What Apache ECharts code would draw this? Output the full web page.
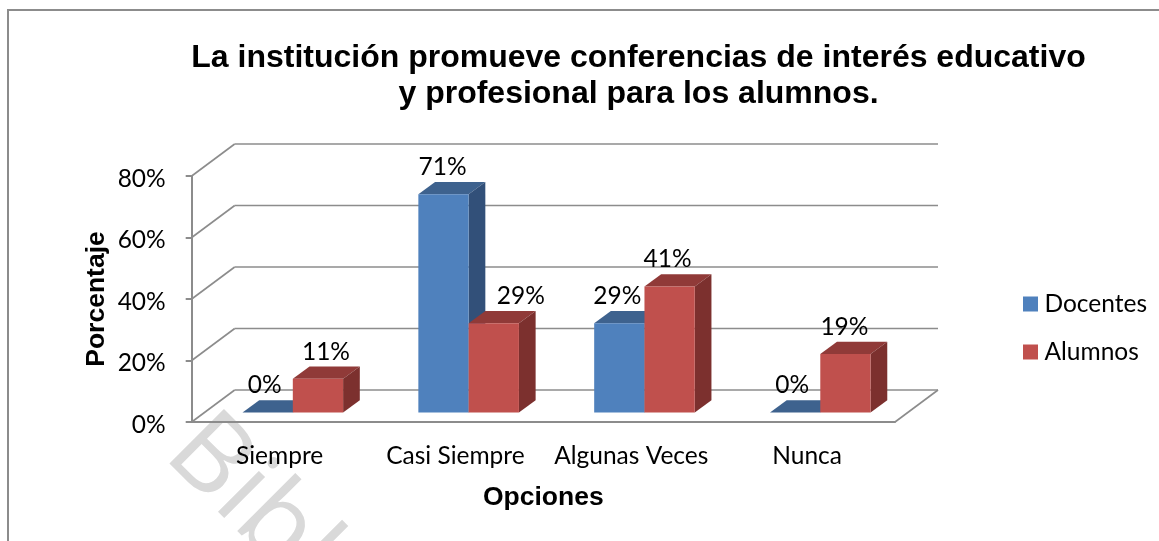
<!DOCTYPE html>
<html>
<head>
<meta charset="utf-8">
<style>
html, body { margin: 0; padding: 0; background: #fff; }
#chart { width: 1159px; height: 541px; }
</style>
<script src="https://cdn.jsdelivr.net/npm/echarts@6/dist/echarts.min.js"></script>
</head>
<body>
<div id="chart"></div>
<script>
const categories = ['Siempre', 'Casi Siempre', 'Algunas Veces', 'Nunca'];
const docentes = [0, 71, 29, 0];
const alumnos = [11, 29, 41, 19];
const gridTicks = [0, 20, 40, 60, 80];

// depth of the fake 3d box and of the bars, px
const wallDx = 43, wallDy = 32;
const barDx = 16.7, barDy = 12.3;
const baseDx = 13.2, baseDy = 9.5;
const barShare = 0.286;

const blue = { front: '#4f81bd', top: '#3e628e', side: '#325079' };
const red = { front: '#c0504d', top: '#903a38', side: '#7c302e' };

// Excel had some labels dragged by hand: [dx, dy] from the default spot
const docentesNudge = [[-3, 0], [-1, 0], [-2, 0], [-3, 0]];
const alumnosNudge = [[8, 0], [27, 0], [-2, 0], [-1, 0]];

function barRenderer(colors, side, nudge) {
    return function (params, api) {
        const i = api.value(0);
        const val = api.value(1);
        const top = api.coord([i, val]);
        const bottom = api.coord([i, 0]);
        const w = api.size([1, 0])[0] * barShare;
        const x0 = top[0] + baseDx + (side < 0 ? -w : 0);
        const x1 = x0 + w;
        const y0 = top[1] - baseDy;
        const y1 = bottom[1] - baseDy;
        const poly = (points, fill) => ({ type: 'polygon', shape: { points }, style: { fill } });
        const children = [
            poly([[x0, y0], [x0 + barDx, y0 - barDy], [x1 + barDx, y0 - barDy], [x1, y0]], colors.top),
            poly([[x1, y0], [x1 + barDx, y0 - barDy], [x1 + barDx, y1 - barDy], [x1, y1]], colors.side)
        ];
        if (val > 0) {
            children.push(poly([[x0, y0], [x1, y0], [x1, y1], [x0, y1]], colors.front));
        }
        children.push({
            type: 'text',
            z2: 10,
            style: {
                x: (x0 + x1) / 2 + nudge[i][0],
                y: y0 - 27 + nudge[i][1],
                text: val + '%',
                font: '24.5px Lato',
                fill: '#000',
                align: 'center',
                verticalAlign: 'middle'
            }
        });
        return { type: 'group', children };
    };
}

function wallRenderer(params, api) {
    const p = api.coord([0, api.value(1)]);
    const box = params.coordSys;
    const y = p[1];
    const lineStyle = { stroke: '#8c8c8c', lineWidth: 1.6 };
    const line = (x1, y1, x2, y2) => ({ type: 'line', shape: { x1, y1, x2, y2 }, style: lineStyle });
    const children = [
        line(box.x, y, box.x + wallDx, y - wallDy),
        line(box.x + wallDx, y - wallDy, box.x + box.width + wallDx, y - wallDy)
    ];
    if (api.value(1) === 0) {
        children.push(line(box.x + box.width, y, box.x + box.width + wallDx, y - wallDy));
    }
    return { type: 'group', children };
}

const chart = echarts.init(document.getElementById('chart'));
chart.setOption({
    animation: false,
    backgroundColor: '#fff',
    title: {
        text: 'La institución promueve conferencias de interés educativo\ny profesional para los alumnos.',
        left: 633.5,
        top: 35,
        textAlign: 'center',
        textStyle: { fontFamily: 'Liberation Sans', fontWeight: 'bold', fontSize: 32, lineHeight: 36, color: '#000' }
    },
    legend: {
        orient: 'vertical',
        left: 1018,
        top: 286.5,
        itemWidth: 15,
        itemHeight: 15,
        itemGap: 23,
        icon: 'rect',
        data: ['Docentes', 'Alumnos'],
        textStyle: { fontFamily: 'Lato', fontSize: 24.5, color: '#000', padding: [0, 0, 0, 1.5] }
    },
    grid: { left: 191.7, right: 264, top: 176, bottom: 119 },
    xAxis: {
        type: 'category',
        data: categories,
        name: 'Opciones',
        nameLocation: 'middle',
        nameGap: 62,
        nameMoveOverlap: false,
        nameTextStyle: { fontFamily: 'Liberation Sans', fontWeight: 'bold', fontSize: 26.5, color: '#000' },
        axisLine: { lineStyle: { color: '#8c8c8c', width: 2 } },
        axisTick: { show: false },
        axisLabel: { interval: 0, fontFamily: 'Lato', fontSize: 24.5, color: '#000', margin: 22 }
    },
    yAxis: {
        type: 'value',
        min: 0,
        max: 80,
        interval: 20,
        name: 'Porcentaje',
        nameLocation: 'middle',
        nameGap: 82,
        nameMoveOverlap: false,
        nameTextStyle: { fontFamily: 'Liberation Sans', fontWeight: 'bold', fontSize: 26.5, color: '#000' },
        axisLine: { show: true, lineStyle: { color: '#8c8c8c', width: 2 } },
        axisTick: { show: true, length: 6, lineStyle: { color: '#8c8c8c', width: 2 } },
        splitLine: { show: false },
        axisLabel: { fontFamily: 'Lato', fontSize: 24.5, color: '#000', margin: 26, verticalAlign: 'top', lineHeight: 6, formatter: '{value}%' }
    },
    graphic: [
        {
            type: 'text',
            z: -1,
            x: 222,
            y: 396,
            rotation: -Math.PI / 4,
            style: { text: 'Biblioteca', font: '108px "Open Sans"', fill: '#d9d9d9' },
            silent: true
        },
        {
            type: 'polyline',
            shape: { points: [[8, 541], [8, 10], [1159, 10]] },
            style: { stroke: '#8c8c8c', lineWidth: 2, fill: null },
            silent: true
        }
    ],
    series: [
        {
            type: 'custom',
            clip: false,
            silent: true,
            renderItem: wallRenderer,
            data: gridTicks.map(t => [0, t]),
            z: 1
        },
        {
            name: 'Docentes',
            type: 'custom',
            clip: false,
            renderItem: barRenderer(blue, -1, docentesNudge),
            itemStyle: { color: blue.front },
            data: docentes.map((v, i) => [i, v]),
            z: 2
        },
        {
            name: 'Alumnos',
            type: 'custom',
            clip: false,
            renderItem: barRenderer(red, 1, alumnosNudge),
            itemStyle: { color: red.front },
            data: alumnos.map((v, i) => [i, v]),
            z: 3
        }
    ]
});
</script>
</body>
</html>
